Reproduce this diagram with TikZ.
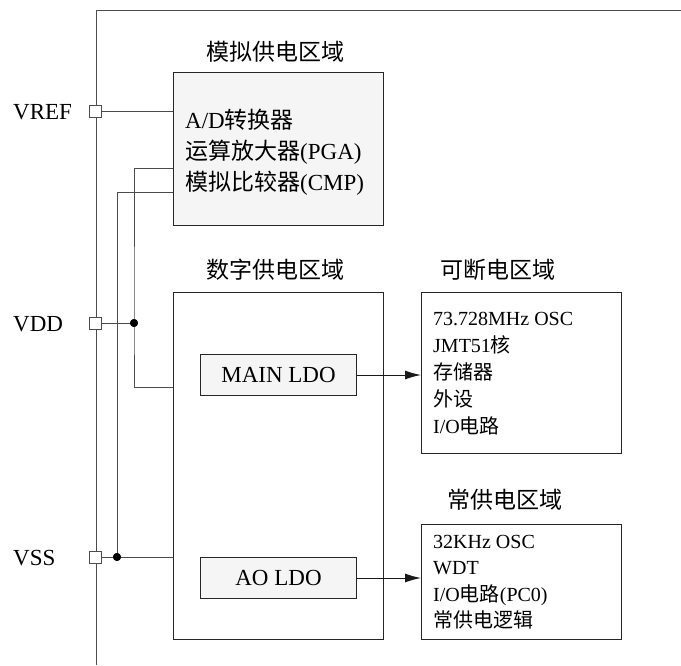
\documentclass[tikz,border=0pt]{standalone}
\usepackage{fontspec}
\setmainfont{Liberation Serif}
\newfontfamily\cjk{Noto Sans CJK SC}
\usetikzlibrary{arrows.meta}
\begin{document}
\begin{tikzpicture}[x=1pt,y=-1pt,
  box/.style={draw=black!85, line width=1pt, inner sep=0pt, anchor=north west},
  graybox/.style={box, fill=black!4},
  wire/.style={draw=black!70, line width=1pt},
  pin/.style={draw=black!70, fill=white, line width=1pt, minimum size=12pt, inner sep=0pt},
  dotnode/.style={circle, fill=black, inner sep=0pt, minimum size=8pt},
  big/.style={font=\fontsize{23}{28}\selectfont, inner sep=0pt},
  small/.style={font=\fontsize{20}{24}\selectfont, inner sep=0pt, anchor=base west},
  lbl/.style={big, anchor=base west},
  title/.style={big, anchor=base},
  arr/.style={draw=black!90, line width=1pt, -{Latex[length=16pt,width=9pt]}}
]
\useasboundingbox (0,0) rectangle (681,665);

% chip outline
\coordinate (chipTR) at (681,10);
\coordinate (chipBL) at (96,665);
\draw[wire] (chipTR) -| (chipBL);

% boxes
\node[graybox, minimum width=210pt, minimum height=153pt] (analog) at (173,72) {};
\node[box, minimum width=210pt, minimum height=347pt] (digital) at (173,292) {};
\node[graybox, big, minimum width=156pt, minimum height=41pt] (mainldo) at (200,354) {MAIN LDO};
\node[graybox, big, minimum width=156pt, minimum height=41pt] (aoldo) at (200,557) {AO LDO};
\node[box, minimum width=200pt, minimum height=161pt] (pd) at (421,292) {};
\node[box, minimum width=200pt, minimum height=115pt] (aon) at (421,524) {};

% titles
\node[title] (antitle) at (275,60) {\cjk 模拟供电区域};
\node[title] (digtitle) at (275,278) {\cjk 数字供电区域};
\node[title] (pdtitle) at (497.5,278) {\cjk 可断电区域};
\node[title] (aontitle) at (505,508.5) {\cjk 常供电区域};

% analog contents
\node[lbl] (ad) at (185,128) {A/D{\cjk 转换器}};
\node[lbl] (pga) at (185,159.5) {{\cjk 运算放大器}(PGA)};
\node[lbl] (cmp) at (185,190) {{\cjk 模拟比较器}(CMP)};

% power-down domain contents
\node[small] (osc1) at (433,325) {73.728MHz OSC};
\node[small] (core) at (433,352) {JMT51{\cjk 核}};
\node[small] (mem) at (433,379) {\cjk 存储器};
\node[small] (per) at (433,406) {\cjk 外设};
\node[small] (io1) at (433,433) {I/O{\cjk 电路}};

% always-on domain contents
\node[small] (osc2) at (433,548) {32KHz OSC};
\node[small] (wdt) at (433,574.5) {WDT};
\node[small] (io2) at (433,601) {I/O{\cjk 电路}(PC0)};
\node[small] (aologic) at (433,627) {\cjk 常供电逻辑};

% pin labels
\node[lbl] (vreflbl) at (13,119.5) {VREF};
\node[lbl] (vddlbl) at (13,331) {VDD};
\node[lbl] (vsslbl) at (13,565) {VSS};

% junction helpers
\coordinate (cmpA) at (173,168);
\coordinate (cmpB) at (173,192);
\coordinate (digA) at (173,387);
\node[dotnode] (vdddot) at (134,323) {};
\node[dotnode] (vssdot) at (117,557) {};

% pins
\node[pin] (vrefpin) at (95.5,111.5) {};
\node[pin] (vddpin) at (95.5,323) {};
\node[pin] (vsspin) at (95.5,557) {};

% wires
\draw[wire] (vrefpin.east) -- (analog.west |- vrefpin);
\draw[wire] (cmpA) -| (vdddot.center) |- (digA);
\draw[wire] (cmpB) -| (vssdot.center);
\draw[wire] (vddpin.east) -- (vdddot.center);
\draw[wire] (vsspin.east) -- (digital.west |- vsspin);
\node[dotnode] at (vdddot) {};
\node[dotnode] at (vssdot) {};

% arrows
\draw[arr] (mainldo.east) -- (mainldo.east -| pd.west);
\draw[arr] (aoldo.east) -- (aoldo.east -| aon.west);
\end{tikzpicture}
\end{document}
